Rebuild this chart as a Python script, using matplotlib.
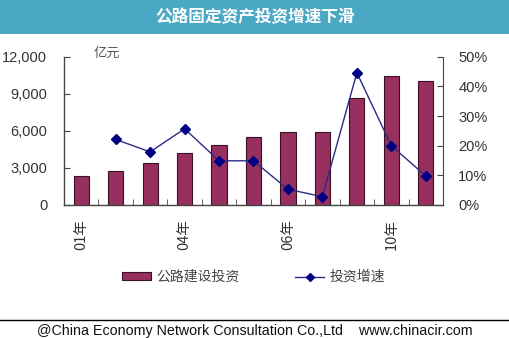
import numpy as np
import matplotlib.pyplot as plt
from matplotlib.patches import Rectangle
from matplotlib.lines import Line2D

plt.rcParams['font.family'] = ['Liberation Sans', 'Noto Sans CJK SC', 'DejaVu Sans']

years = ['2001', '2002', '2003', '2004', '2005', '2006', '2007', '2008', '2009', '2010', '2011']
investment = [2350, 2780, 3370, 4180, 4850, 5500, 5880, 5930, 8680, 10440, 10060]
growth = [np.nan, 22.1, 17.9, 25.7, 14.9, 14.9, 5.3, 2.8, 44.6, 20.0, 9.8]
tick_pos = [0, 3, 6, 9]
tick_labels = ['01年', '04年', '06年', '10年']

bar_color = '#972F5F'
line_color = '#2A2A86'
text_color = '#333333'
cjk = ['Noto Sans CJK SC', 'DejaVu Sans']

fig = plt.figure(figsize=(5.1, 3.38), dpi=100)

# title band
fig.patches.append(Rectangle((0, 1 - 34 / 338), 1, 34 / 338, transform=fig.transFigure,
                             facecolor='#4BA8C4', edgecolor='none', zorder=0))
fig.text(0.5, 1 - 17 / 338, '公路固定资产投资增速下滑', ha='center', va='center',
         color='white', fontsize=12, fontweight='bold', family=cjk)

ax = fig.add_axes([64 / 510, 1 - 205 / 338, 379 / 510, 148.3 / 338])
x = np.arange(len(years))
bars = ax.bar(x, investment, width=0.44, color=bar_color, edgecolor='#3a1025', linewidth=0.8,
              label='公路建设投资', zorder=2)
ax.set_xlim(-0.5, len(years) - 0.5)
ax.set_ylim(0, 12000)
ax.set_yticks([0, 3000, 6000, 9000, 12000])
ax.set_yticklabels(['0', '3,000', '6,000', '9,000', '12,000'])
ax.tick_params(axis='y', direction='in', length=4, colors='#444444', labelcolor=text_color,
               labelsize=10.5, pad=12)
ax.set_xticks(np.arange(-0.5, len(years), 1), minor=True)
ax.set_xticks(tick_pos)
ax.set_xticklabels(tick_labels, rotation=90, family=cjk, fontsize=10.5, color=text_color)
ax.tick_params(axis='x', which='major', length=0, pad=10)
ax.tick_params(axis='x', which='minor', direction='in', length=4, color='#444444')
for s in ['top', 'right']:
    ax.spines[s].set_visible(False)
for s in ['left', 'bottom']:
    ax.spines[s].set_color('#444444')
    ax.spines[s].set_linewidth(1.0)
ax.text(30 / 379, 1.02, '亿元', transform=ax.transAxes, ha='left', va='center',
        fontsize=9.5, color='#555555', family=cjk)

ax2 = ax.twinx()
line, = ax2.plot(x, growth, color=line_color, linewidth=1.0, marker='D', markersize=5,
                 markerfacecolor='#000080', markeredgecolor='#000080',
                 label='投资增速', zorder=3)
ax2.set_ylim(0, 50)
ax2.set_yticks([0, 10, 20, 30, 40, 50])
ax2.set_yticklabels(['0%', '10%', '20%', '30%', '40%', '50%'])
ax2.tick_params(axis='y', direction='in', length=4, colors='#444444', labelcolor=text_color,
                labelsize=10.5, pad=11)
for s in ['top', 'left', 'bottom']:
    ax2.spines[s].set_visible(False)
ax2.spines['right'].set_color('#444444')

bar_handle = Rectangle((0, 0), 1, 1, facecolor=bar_color, edgecolor='#3a1025', linewidth=0.8)
line_handle = Line2D([], [], color=line_color, linewidth=1.0, marker='D', markersize=4,
                     markerfacecolor='#000080', markeredgecolor='#000080')
fig.legend([bar_handle, line_handle], ['公路建设投资', '投资增速'], loc='center',
           bbox_to_anchor=(0.497, 1 - 277 / 338), ncol=2, frameon=False,
           prop={'family': cjk, 'size': 10}, labelcolor='#444444',
           handlelength=2.1, handleheight=0.45, columnspacing=4.0, handletextpad=0.4)

# footer
fig.add_artist(Line2D([0, 1], [1 - 320 / 338] * 2, transform=fig.transFigure,
                      color='black', linewidth=1.0))
fig.text(0.5, 1 - 331 / 338, '@China Economy Network Consultation Co.,Ltd    www.chinacir.com',
         ha='center', va='center', fontsize=10.3, color='#111111')

fig.savefig('out.png', dpi=100)
